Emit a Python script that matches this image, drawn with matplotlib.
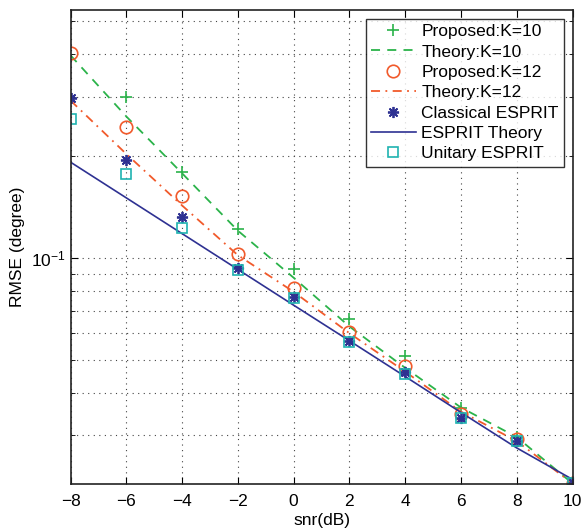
import numpy as np
import matplotlib
matplotlib.use("Agg")
import matplotlib.pyplot as plt
from matplotlib.ticker import FixedLocator, NullFormatter

plt.rcParams['font.family'] = ['Liberation Sans', 'DejaVu Sans']
plt.rcParams['mathtext.default'] = 'regular'

snr = [-8, -6, -4, -2, 0, 2, 4, 6, 8, 10]
proposed_k10 = [0.60, 0.299, 0.179, 0.122, 0.0926, 0.066, 0.0514, 0.036, 0.0297, 0.0216]
theory_k10 = [0.397, 0.262, 0.178, 0.1205, 0.0875, 0.0628, 0.0474, 0.0362, 0.0296, 0.0216]
proposed_k12 = [0.403, 0.244, 0.1527, 0.1027, 0.0814, 0.0606, 0.048, 0.0347, 0.0292, 0.0216]
theory_k12 = [0.292, 0.203, 0.143, 0.102, 0.0795, 0.060, 0.0462, 0.0352, 0.0288, 0.0216]
classical_esprit = [0.297, 0.195, 0.1324, 0.0932, 0.0769, 0.0569, 0.046, 0.0338, 0.0288, 0.0216]
esprit_theory = [0.192, 0.1506, 0.1181, 0.0926, 0.0726, 0.0570, 0.0447, 0.0350, 0.0275, 0.0222]
unitary_esprit = [0.257, 0.177, 0.1228, 0.0922, 0.0764, 0.0566, 0.0455, 0.0337, 0.0288, 0.0216]

green = '#2bb34a'
red = '#f15a2b'
navy = '#2e3192'
teal = '#1fb3b0'

fig = plt.figure(figsize=(5.83, 5.32), dpi=100)
ax = fig.add_axes([0.121, 0.090, 0.861, 0.891])

ax.plot(snr, proposed_k10, linestyle='none', marker='+', color=green, markersize=9, mew=1.2, label='Proposed:K=10')
ax.plot(snr, theory_k10, linestyle=(0, (5, 4)), color=green, lw=1.3, label='Theory:K=10')
ax.plot(snr, proposed_k12, linestyle='none', marker='o', mfc='none', mec=red, markersize=9, mew=1.2, label='Proposed:K=12')
ax.plot(snr, theory_k12, linestyle=(0, (5, 3, 1, 3)), color=red, lw=1.3, label='Theory:K=12')
ax.plot(snr, classical_esprit, linestyle='none', marker=(8, 2, 0), color=navy, markersize=8, mew=1.3, label='Classical ESPRIT')
ax.plot(snr, esprit_theory, linestyle='-', color=navy, lw=1.2, label='ESPRIT Theory')
ax.plot(snr, unitary_esprit, linestyle='none', marker='s', mfc='none', mec=teal, markersize=7, mew=1.2, label='Unitary ESPRIT')

ax.set_yscale('log')
ax.set_xlim(-8, 10)
ax.set_ylim(0.0215, 0.54)
ax.set_xticks(snr)
ax.set_xticklabels([str(v).replace('-', '\u2212') for v in snr])
ax.yaxis.set_major_locator(FixedLocator([0.1]))
ax.set_yticklabels(['$10^{-1}$'])
ax.yaxis.set_minor_locator(FixedLocator([0.03, 0.04, 0.05, 0.06, 0.07, 0.08, 0.09, 0.2, 0.3, 0.4, 0.5]))
ax.yaxis.set_minor_formatter(NullFormatter())

ax.tick_params(which='both', direction='in', top=True, right=True, labelsize=12.5)
ax.tick_params(axis='x', pad=7)
ax.tick_params(which='major', length=5)
ax.tick_params(which='minor', length=3)
ax.grid(True, which='both', linestyle=(0, (1, 4)), color='#444444', lw=0.8)
for s in ax.spines.values():
    s.set_linewidth(1.2)
    s.set_color('#222222')

ax.set_xlabel('snr(dB)', fontsize=12.5, labelpad=3)
ax.set_ylabel('RMSE (degree)', fontsize=12.5, labelpad=4)

leg = ax.legend(loc='upper right', fontsize=12.5, frameon=True, fancybox=False, edgecolor='black',
                borderpad=0.3, labelspacing=0.3, handlelength=2.6, handletextpad=0.3, borderaxespad=0.5)
leg.get_frame().set_linewidth(1.0)

fig.savefig('out.png', dpi=100)
